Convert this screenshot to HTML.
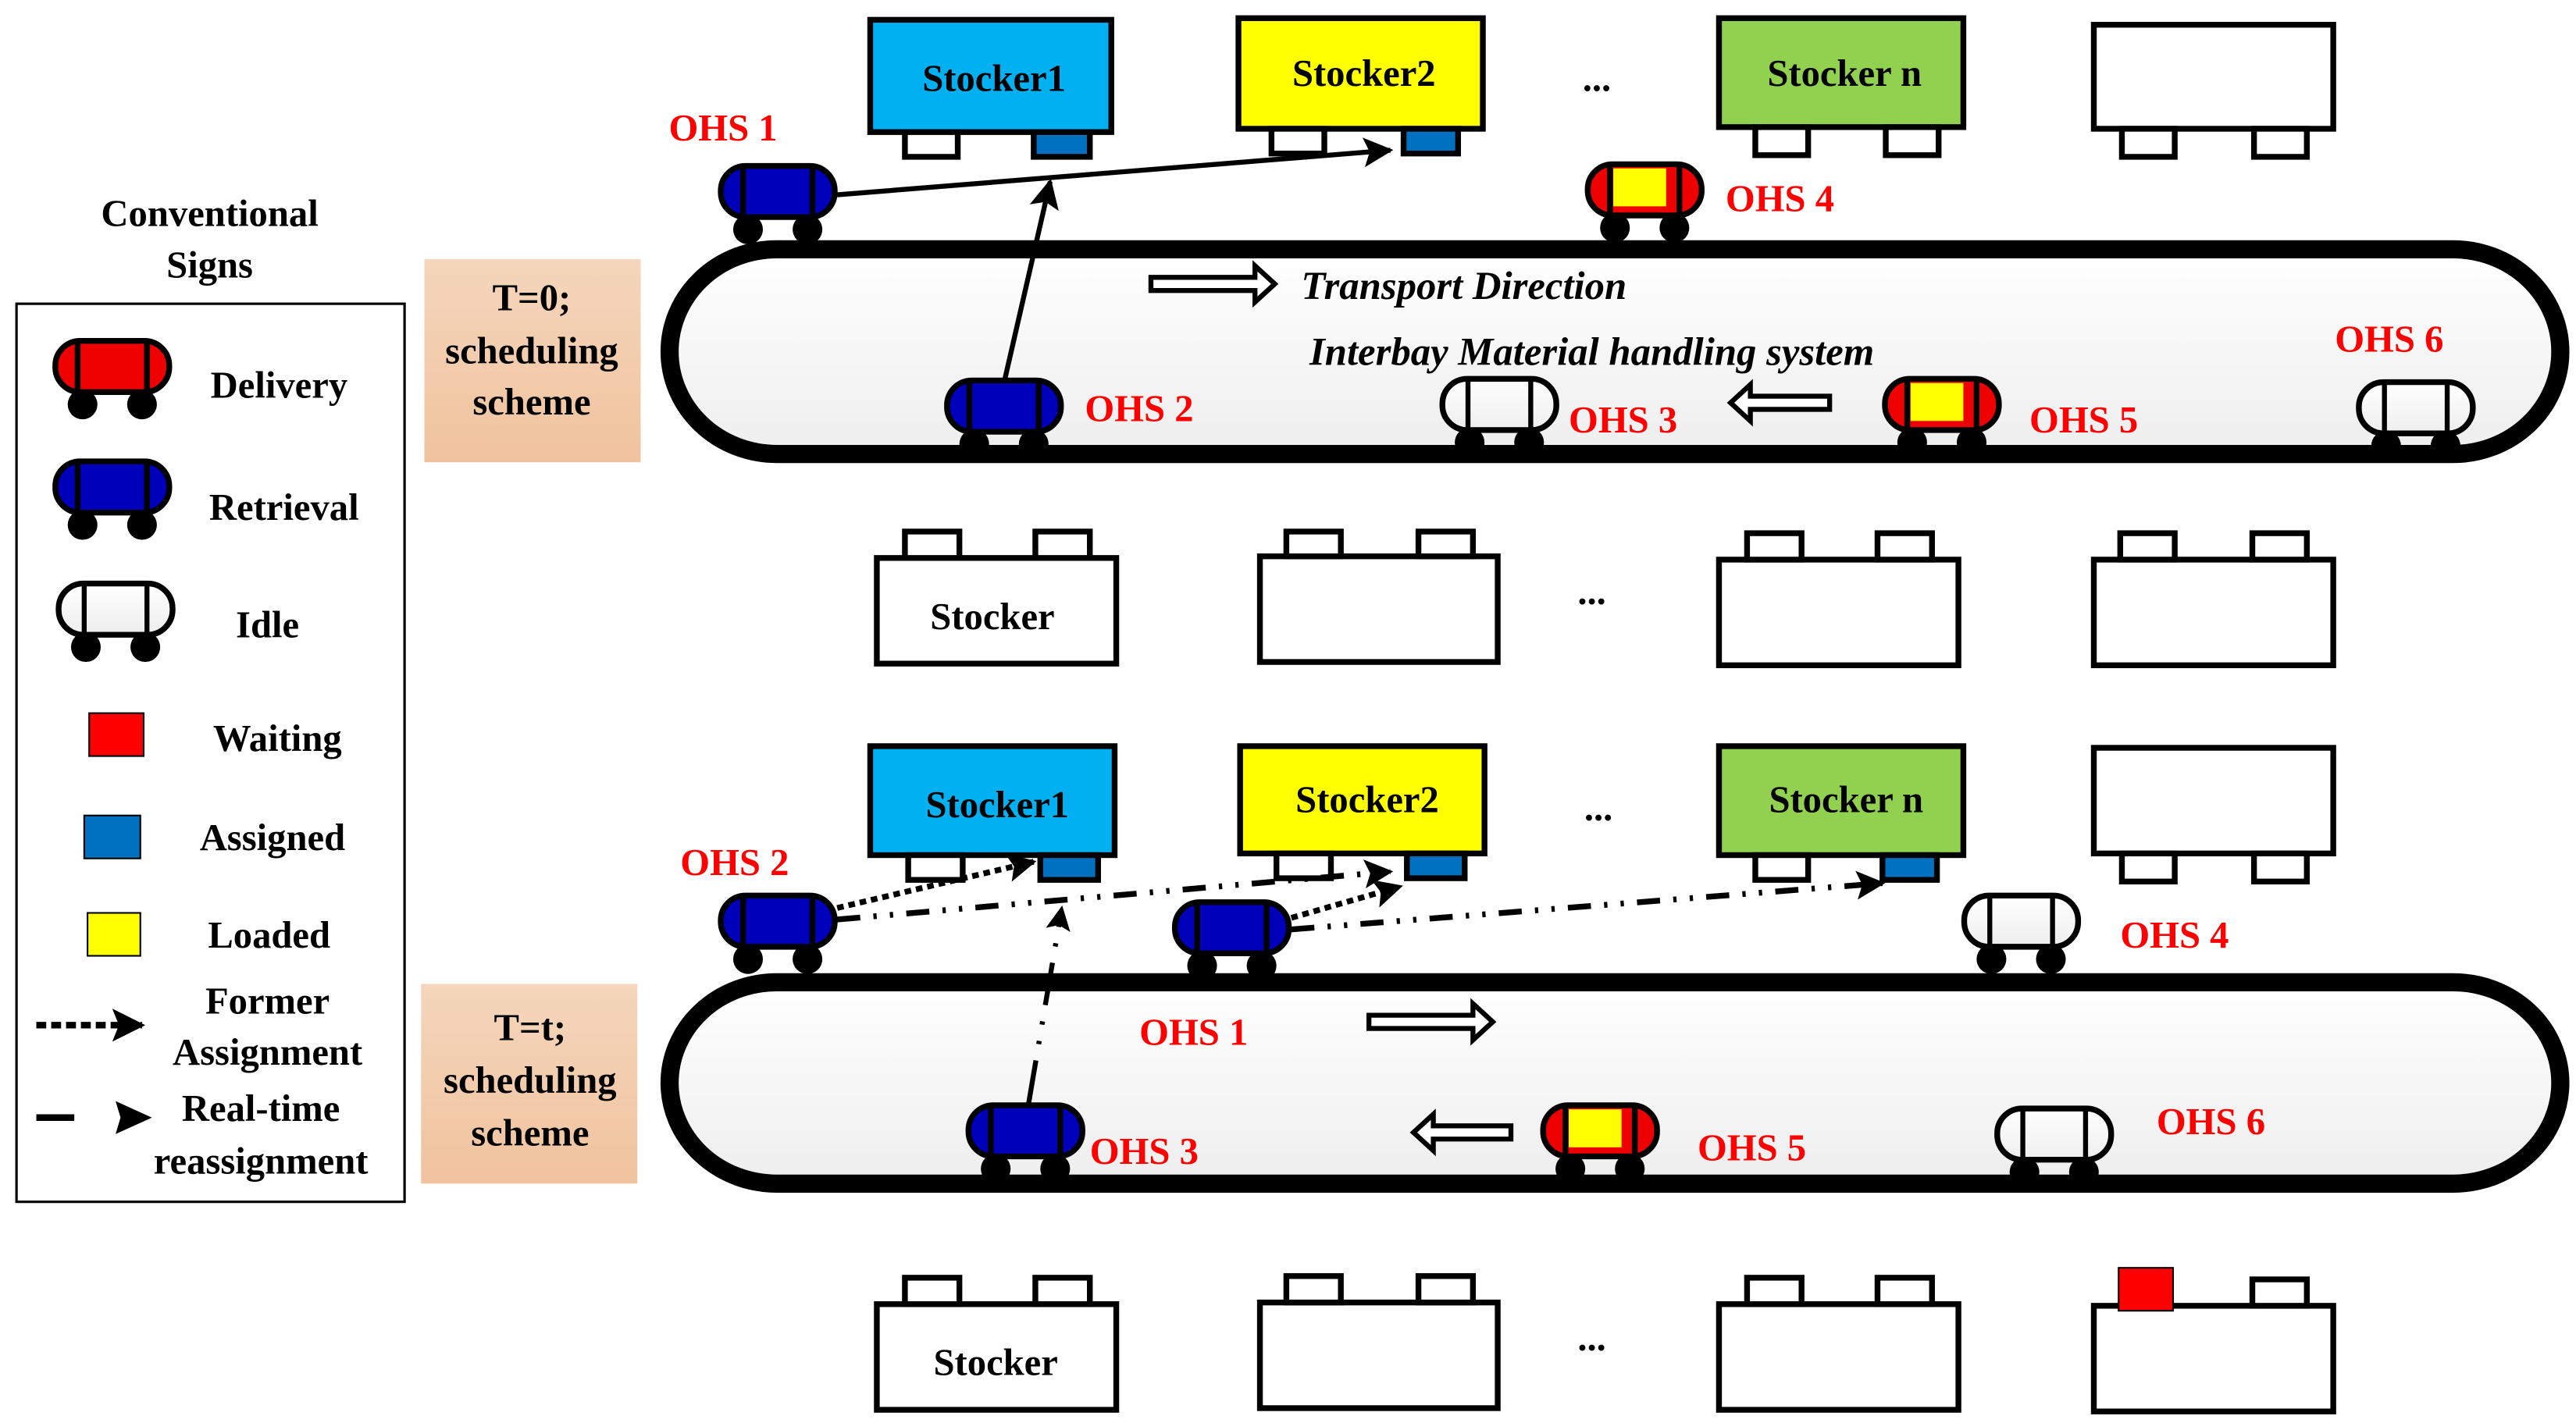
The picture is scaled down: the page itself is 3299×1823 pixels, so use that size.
<!DOCTYPE html>
<html><head><meta charset="utf-8"><style>
html,body{margin:0;padding:0;background:#fff;}
svg{display:block;}
text{font-family:"Liberation Serif",serif;font-weight:bold;}
.r{fill:#ff0000;font-size:23px;}
.b{fill:#000;font-size:23px;}
.it{font-style:italic;font-size:24px;}
</style></head><body>
<svg width="3299" height="1823" viewBox="0 0 1560 862" preserveAspectRatio="none" xmlns="http://www.w3.org/2000/svg">
<defs>
<linearGradient id="cg" x1="0" y1="0" x2="0" y2="1"><stop offset="0" stop-color="#ffffff"/><stop offset="1" stop-color="#eeeeee"/></linearGradient>
<linearGradient id="pg" x1="0" y1="0" x2="0" y2="1"><stop offset="0" stop-color="#f5d6bc"/><stop offset="1" stop-color="#f0c39e"/></linearGradient>
<g id="wh"><circle cx="18" cy="40" r="9" fill="#000"/><circle cx="54" cy="40" r="9" fill="#000"/></g>
<g id="cR"><use href="#wh"/><rect x="1.5" y="1.5" width="69" height="31" rx="15" ry="15" fill="#0000bb" stroke="#000" stroke-width="3.5"/><line x1="15" y1="2" x2="15" y2="32" stroke="#000" stroke-width="3.5"/><line x1="57" y1="2" x2="57" y2="32" stroke="#000" stroke-width="3.5"/></g>
<g id="cD"><use href="#wh"/><rect x="1.5" y="1.5" width="69" height="31" rx="15" ry="15" fill="#ee0000" stroke="#000" stroke-width="3.5"/><line x1="15" y1="2" x2="15" y2="32" stroke="#000" stroke-width="3.5"/><line x1="57" y1="2" x2="57" y2="32" stroke="#000" stroke-width="3.5"/></g>
<g id="cL"><use href="#wh"/><rect x="1.5" y="1.5" width="69" height="31" rx="15" ry="15" fill="#ee0000" stroke="#000" stroke-width="3.5"/><rect x="17" y="4" width="32" height="23" fill="#ffff00"/><line x1="15" y1="2" x2="15" y2="32" stroke="#000" stroke-width="3.5"/><line x1="57" y1="2" x2="57" y2="32" stroke="#000" stroke-width="3.5"/></g>
<g id="cI"><use href="#wh"/><rect x="1.5" y="1.5" width="69" height="31" rx="15" ry="15" fill="url(#cg)" stroke="#000" stroke-width="3.5"/><line x1="17" y1="2" x2="17" y2="32" stroke="#000" stroke-width="3"/><line x1="55" y1="2" x2="55" y2="32" stroke="#000" stroke-width="3"/></g>
<marker id="ah" viewBox="0 0 10 10" refX="9" refY="5" markerWidth="5" markerHeight="5" orient="auto" markerUnits="strokeWidth"><path d="M0,0 L10,5 L0,10 L2,5 Z" fill="#000"/></marker>
<marker id="ah2" viewBox="0 0 10 10" refX="9" refY="5" markerWidth="6" markerHeight="6" orient="auto" markerUnits="strokeWidth"><path d="M0,0 L10,5 L0,10 L2,5 Z" fill="#000"/></marker>
</defs>

<!-- Legend -->
<text class="b" x="127" y="137" text-anchor="middle">Conventional</text>
<text class="b" x="127" y="168" text-anchor="middle">Signs</text>
<rect x="10" y="184" width="235" height="544" fill="#fff" stroke="#000" stroke-width="1.5"/>
<use href="#cD" x="32" y="205"/>
<text class="b" x="169" y="241" text-anchor="middle">Delivery</text>
<use href="#cR" x="32" y="278"/>
<text class="b" x="172" y="315" text-anchor="middle">Retrieval</text>
<use href="#cI" x="34" y="352"/>
<text class="b" x="162" y="386" text-anchor="middle">Idle</text>
<rect x="54" y="432" width="33" height="26" fill="#ff0000" stroke="#000" stroke-width="1"/>
<text class="b" x="168" y="455" text-anchor="middle">Waiting</text>
<rect x="51" y="494" width="34" height="26" fill="#0070c0" stroke="#000" stroke-width="1"/>
<text class="b" x="165" y="515" text-anchor="middle">Assigned</text>
<rect x="53" y="553" width="32" height="26" fill="#ffff00" stroke="#000" stroke-width="1"/>
<text class="b" x="163" y="574" text-anchor="middle">Loaded</text>
<line x1="22" y1="621" x2="86" y2="621" stroke="#000" stroke-width="4" stroke-dasharray="6,3" marker-end="url(#ah)"/>
<text class="b" x="162" y="614" text-anchor="middle">Former</text>
<text class="b" x="162" y="645" text-anchor="middle">Assignment</text>
<line x1="22" y1="677" x2="45" y2="677" stroke="#000" stroke-width="4"/>
<path d="M70,667 L92,677 L70,687 L73,677 Z" fill="#000"/>
<text class="b" x="158" y="679" text-anchor="middle">Real-time</text>
<text class="b" x="158" y="711" text-anchor="middle">reassignment</text>

<!-- T boxes -->
<rect x="257" y="157" width="131" height="123" fill="url(#pg)"/>
<text class="b" x="322" y="188" text-anchor="middle">T=0;</text>
<text class="b" x="322" y="220" text-anchor="middle">scheduling</text>
<text class="b" x="322" y="251" text-anchor="middle">scheme</text>
<rect x="255" y="596" width="131" height="121" fill="url(#pg)"/>
<text class="b" x="321" y="630" text-anchor="middle">T=t;</text>
<text class="b" x="321" y="662" text-anchor="middle">scheduling</text>
<text class="b" x="321" y="694" text-anchor="middle">scheme</text>

<!-- ===== TOP ===== -->
<g stroke="#000" stroke-width="3.5">
<rect x="527" y="12" width="146" height="68" fill="#00b0f0"/>
<rect x="548" y="80" width="32" height="15" fill="#fff"/><rect x="626" y="80" width="34" height="15" fill="#0070c0"/>
<rect x="750" y="11" width="148" height="67" fill="#ffff00"/>
<rect x="770" y="78" width="32" height="15" fill="#fff"/><rect x="850" y="78" width="33" height="15" fill="#0070c0"/>
<rect x="1041" y="11" width="148" height="66" fill="#92d050"/>
<rect x="1063" y="77" width="32" height="17" fill="#fff"/><rect x="1142" y="77" width="32" height="17" fill="#fff"/>
<rect x="1268" y="15" width="145" height="63" fill="#fff"/>
<rect x="1285" y="78" width="32" height="17" fill="#fff"/><rect x="1365" y="78" width="32" height="17" fill="#fff"/>
</g>
<text class="b" x="602" y="55" text-anchor="middle">Stocker1</text>
<text class="b" x="826" y="52" text-anchor="middle">Stocker2</text>
<text class="b" x="1117" y="52" text-anchor="middle">Stocker n</text>
<text class="b" x="967" y="55" text-anchor="middle">...</text>

<rect x="405.5" y="151" width="1145" height="124" rx="65" ry="62" fill="url(#cg)" stroke="#000" stroke-width="11"/>

<line x1="507" y1="118" x2="842" y2="91" stroke="#000" stroke-width="3" marker-end="url(#ah2)"/>
<line x1="608" y1="232" x2="636" y2="110" stroke="#000" stroke-width="3" marker-end="url(#ah2)"/>

<use href="#cR" x="435" y="99"/>
<text class="r" x="405" y="85">OHS 1</text>
<use href="#cL" x="960" y="98"/>
<text class="r" x="1045" y="128">OHS 4</text>
<path d="M697,168 L760,168 L760,161 L772,172 L760,183 L760,176 L697,176 Z" fill="#fff" stroke="#000" stroke-width="3"/>
<text class="b it" x="788" y="181">Transport Direction</text>
<text class="b it" x="793" y="221">Interbay Material handling system</text>
<use href="#cR" x="572" y="229"/>
<text class="r" x="657" y="255">OHS 2</text>
<use href="#cI" x="872" y="228"/>
<text class="r" x="950" y="262">OHS 3</text>
<path d="M1108,240 L1060,240 L1060,233 L1048,244 L1060,255 L1060,248 L1108,248 Z" fill="#fff" stroke="#000" stroke-width="3"/>
<use href="#cL" x="1140" y="228"/>
<text class="r" x="1229" y="262">OHS 5</text>
<use href="#cI" x="1427" y="230"/>
<text class="r" x="1414" y="213">OHS 6</text>

<g stroke="#000" stroke-width="3.5" fill="#fff">
<rect x="531" y="338" width="145" height="64"/><rect x="548" y="322" width="33" height="16"/><rect x="627" y="322" width="33" height="16"/>
<rect x="763" y="337" width="144" height="64"/><rect x="779" y="322" width="33" height="15"/><rect x="859" y="322" width="33" height="15"/>
<rect x="1041" y="339" width="145" height="64"/><rect x="1058" y="323" width="33" height="16"/><rect x="1137" y="323" width="33" height="16"/>
<rect x="1268" y="339" width="145" height="64"/><rect x="1284" y="323" width="33" height="16"/><rect x="1364" y="323" width="33" height="16"/>
</g>
<text class="b" x="601" y="381" text-anchor="middle">Stocker</text>
<text class="b" x="964" y="366" text-anchor="middle">...</text>

<!-- ===== BOTTOM ===== -->
<g stroke="#000" stroke-width="3.5">
<rect x="527" y="452" width="148" height="66" fill="#00b0f0"/>
<rect x="550" y="518" width="33" height="15" fill="#fff"/><rect x="630" y="518" width="35" height="15" fill="#0070c0"/>
<rect x="751" y="452" width="148" height="65" fill="#ffff00"/>
<rect x="773" y="517" width="33" height="15" fill="#fff"/><rect x="852" y="517" width="35" height="15" fill="#0070c0"/>
<rect x="1041" y="452" width="148" height="66" fill="#92d050"/>
<rect x="1063" y="518" width="32" height="15" fill="#fff"/><rect x="1140" y="518" width="33" height="15" fill="#0070c0"/>
<rect x="1268" y="453" width="145" height="64" fill="#fff"/>
<rect x="1285" y="517" width="32" height="17" fill="#fff"/><rect x="1365" y="517" width="32" height="17" fill="#fff"/>
</g>
<text class="b" x="604" y="495" text-anchor="middle">Stocker1</text>
<text class="b" x="828" y="492" text-anchor="middle">Stocker2</text>
<text class="b" x="1118" y="492" text-anchor="middle">Stocker n</text>
<text class="b" x="968" y="497" text-anchor="middle">...</text>

<rect x="405.5" y="595" width="1145" height="122" rx="65" ry="61" fill="url(#cg)" stroke="#000" stroke-width="11"/>

<g stroke="#000" stroke-width="3.5" fill="none">
<line x1="507" y1="550" x2="626" y2="522" stroke-dasharray="4,3" marker-end="url(#ah)"/>
<line x1="507" y1="557" x2="842" y2="528" stroke-dasharray="14,8,2,8,2,8" marker-end="url(#ah)"/>
<line x1="782" y1="556" x2="848" y2="537" stroke-dasharray="4,3" marker-end="url(#ah)"/>
<line x1="782" y1="563" x2="1140" y2="535" stroke-dasharray="14,8,2,8,2,8" marker-end="url(#ah)"/>
<line x1="623" y1="668" x2="643" y2="550" stroke-width="3" stroke-dasharray="26,10,2,10,2,10" marker-end="url(#ah)"/>
</g>

<use href="#cR" x="435" y="541"/>
<text class="r" x="412" y="530">OHS 2</text>
<use href="#cR" x="710" y="545"/>
<text class="r" x="690" y="633">OHS 1</text>
<use href="#cI" x="1188" y="541"/>
<text class="r" x="1284" y="574">OHS 4</text>
<path d="M829,615 L892,615 L892,608 L904,619 L892,630 L892,623 L829,623 Z" fill="#fff" stroke="#000" stroke-width="3"/>
<use href="#cR" x="585" y="668"/>
<text class="r" x="660" y="705">OHS 3</text>
<path d="M915,682 L868,682 L868,675 L856,686 L868,697 L868,690 L915,690 Z" fill="#fff" stroke="#000" stroke-width="3"/>
<use href="#cL" x="933" y="668"/>
<text class="r" x="1028" y="703">OHS 5</text>
<use href="#cI" x="1208" y="670"/>
<text class="r" x="1306" y="687">OHS 6</text>

<g stroke="#000" stroke-width="3.5" fill="#fff">
<rect x="531" y="790" width="145" height="64"/><rect x="548" y="774" width="33" height="16"/><rect x="627" y="774" width="33" height="16"/>
<rect x="763" y="789" width="144" height="64"/><rect x="779" y="773" width="33" height="16"/><rect x="859" y="773" width="33" height="16"/>
<rect x="1041" y="790" width="145" height="64"/><rect x="1058" y="774" width="33" height="16"/><rect x="1137" y="774" width="33" height="16"/>
<rect x="1268" y="791" width="145" height="64"/><rect x="1364" y="775" width="33" height="16"/>
</g>
<rect x="1283" y="768" width="33" height="26" fill="#ff0000" stroke="#000" stroke-width="1"/>
<text class="b" x="603" y="833" text-anchor="middle">Stocker</text>
<text class="b" x="964" y="818" text-anchor="middle">...</text>
</svg>
</body></html>
